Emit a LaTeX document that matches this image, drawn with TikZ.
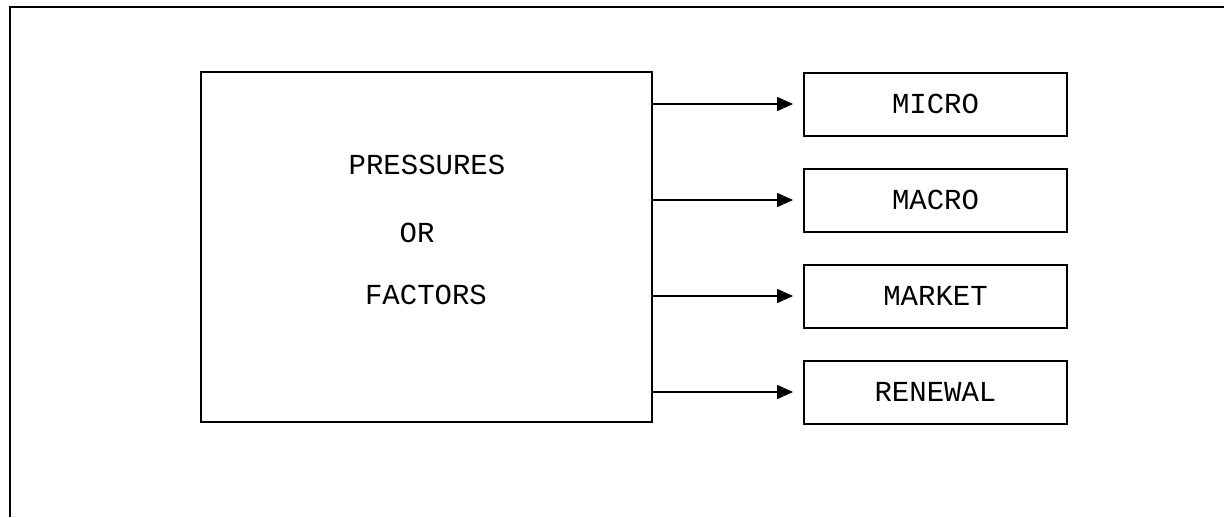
\documentclass[tikz,border=0pt]{standalone}
\usepackage{fontspec}
\setmonofont{Liberation Mono}
\usetikzlibrary{arrows.meta,positioning}
\tikzset{
  mainbox/.style={rectangle,draw=black,line width=2pt,minimum width=451pt,minimum height=350pt},
  factor/.style={rectangle,draw=black,line width=2pt,minimum width=263pt,minimum height=63pt,
    inner sep=0pt,font=\ttfamily\fontsize{29}{34}\selectfont},
  pressure/.style={inner sep=0pt,anchor=base,font=\ttfamily\fontsize{29}{34}\selectfont},
  myarrow/.style={-{Triangle[length=16pt,width=14pt]},line width=2pt},
}
\begin{document}
\begin{tikzpicture}[x=1pt,y=-1pt,node distance=31pt]
  \useasboundingbox (0,0) rectangle (1224,517);
  % outer frame
  \coordinate (fbl) at (10,517);
  \coordinate (ftr) at (1224,7);
  \draw[line width=2pt] (fbl) |- (ftr);
  % pressures box
  \node[mainbox] (main) at (426.5,247) {};
  \node[pressure] (pres) at (427,174) {PRESSURES};
  \node[pressure] (or) at (417,242) {OR};
  \node[pressure] (fact) at (426,304) {FACTORS};
  % outcome boxes
  \node[factor] (micro) at (935.5,104) {MICRO};
  \node[factor,below=of micro] (macro) {MACRO};
  \node[factor,below=of macro] (market) {MARKET};
  \node[factor,below=of market] (renewal) {RENEWAL};
  \foreach \n in {micro,macro,market,renewal}
    \draw[myarrow] (main.east |- \n) -- ([xshift=-10pt]\n.west);
\end{tikzpicture}
\end{document}
